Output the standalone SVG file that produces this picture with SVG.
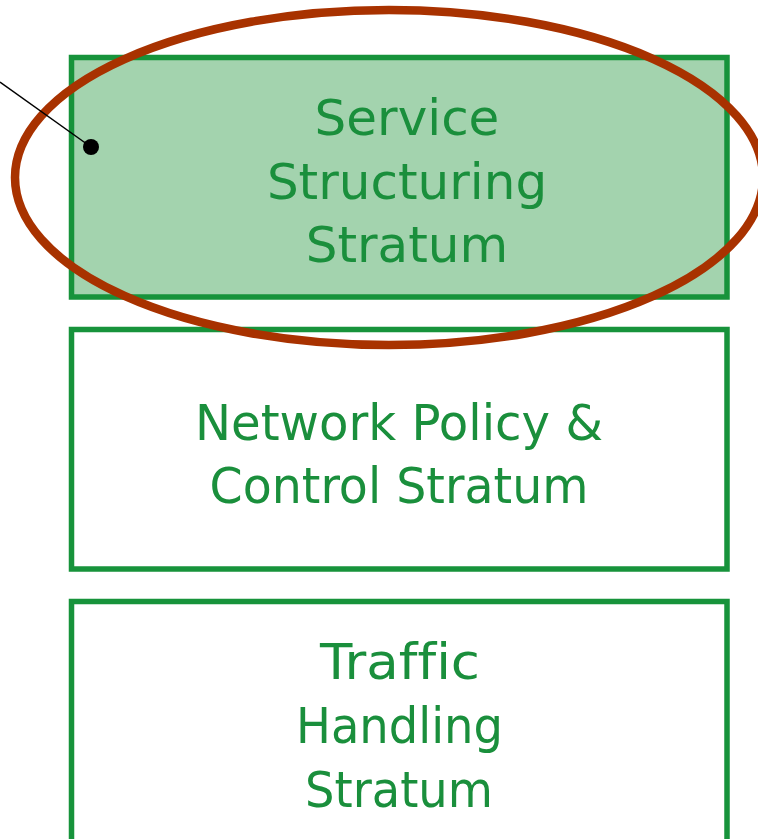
<svg xmlns="http://www.w3.org/2000/svg" width="758" height="839" viewBox="0 0 758 839">
<style>
.box{stroke:#17933b;stroke-width:5.5}
.t{font-family:"DejaVu Sans",Verdana,sans-serif;font-size:50px;fill:#1a8f3c;text-anchor:middle;font-variant-ligatures:none}
</style>
<rect width="758" height="839" fill="#fff"/>
<g id="service">
<rect class="box" x="71.5" y="57.5" width="655.5" height="239.5" fill="#a3d3ae"/>
<text class="t" x="407" y="135">Service</text>
<text class="t" x="407" y="199">Structuring</text>
<text class="t" x="407" y="262">Stratum</text>
</g>
<g id="network">
<rect class="box" x="71.5" y="329.5" width="655.5" height="239.5" fill="#fff"/>
<text class="t" x="399" y="440" textLength="408" lengthAdjust="spacingAndGlyphs">Network Policy &amp;</text>
<text class="t" x="399" y="503" textLength="379" lengthAdjust="spacingAndGlyphs">Control Stratum</text>
</g>
<g id="traffic">
<rect class="box" x="71.5" y="601.5" width="655.5" height="260" fill="#fff"/>
<text class="t" x="400" y="679" textLength="160" lengthAdjust="spacingAndGlyphs">Traffic</text>
<text class="t" x="399.5" y="743" textLength="207" lengthAdjust="spacingAndGlyphs">Handling</text>
<text class="t" x="399" y="807" textLength="188" lengthAdjust="spacingAndGlyphs">Stratum</text>
</g>
<g id="highlight">
<ellipse cx="389" cy="177.5" rx="374" ry="167.5" fill="none" stroke="#a83200" stroke-width="8.5"/>
</g>
<g id="connectors">
<line x1="0" y1="82" x2="91" y2="147" stroke="#000" stroke-width="1.5"/>
<circle cx="91" cy="147" r="8" fill="#000"/>
</g>
</svg>
